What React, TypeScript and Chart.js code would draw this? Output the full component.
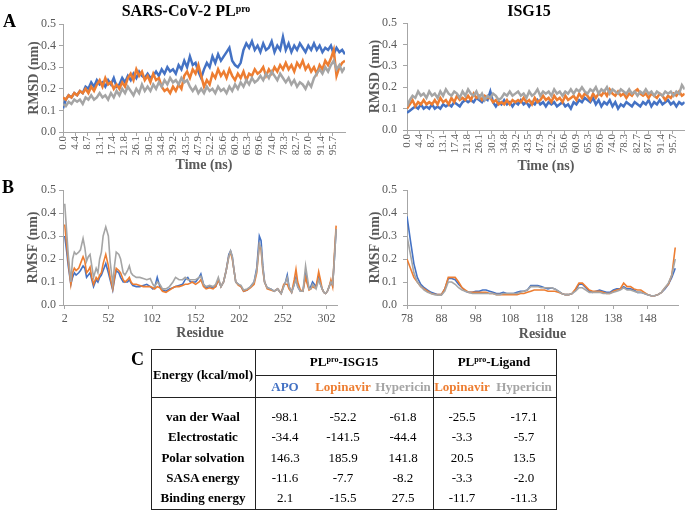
import React, { useEffect, useRef } from "react";
import { Chart, registerables } from "chart.js";
Chart.register(...registerables);

const SERIF = '"Liberation Serif", "Times New Roman", serif';
const C_BLUE = "#4472C4";
const C_ORANGE = "#ED7D31";
const C_GRAY = "#A5A5A5";
const AXIS = "#A6A6A6";
const TICK = "#595959";

// ---------- Panel A : RMSD vs time (ns), one sample per ns ----------
const TIME_TICKS = [0.0, 4.4, 8.7, 13.1, 17.4, 21.8, 26.1, 30.5, 34.8, 39.2, 43.5, 47.9, 52.2, 56.6, 60.9, 65.3, 69.6, 74.0, 78.3, 82.7, 87.0, 91.4, 95.7];
const Y_TICKS = [0, 0.1, 0.2, 0.3, 0.4, 0.5];

const PL_RMSD_APO = [
  0.11, 0.15, 0.17, 0.16, 0.18, 0.17, 0.19, 0.18, 0.21, 0.20,
  0.23, 0.21, 0.24, 0.22, 0.23, 0.21, 0.24, 0.22, 0.25, 0.21,
  0.22, 0.25, 0.23, 0.26, 0.24, 0.27, 0.25, 0.28, 0.26, 0.25,
  0.27, 0.25, 0.26, 0.28, 0.26, 0.29, 0.27, 0.30, 0.28, 0.29,
  0.27, 0.31, 0.29, 0.33, 0.30, 0.35, 0.31, 0.32, 0.28, 0.25,
  0.29, 0.32, 0.30, 0.35, 0.32, 0.36, 0.33, 0.35, 0.37, 0.39,
  0.33, 0.31, 0.30, 0.32, 0.38, 0.41, 0.39, 0.42, 0.38, 0.40,
  0.37, 0.41, 0.38, 0.39, 0.42, 0.37, 0.40, 0.38, 0.44, 0.38,
  0.41, 0.37, 0.40, 0.38, 0.41, 0.39, 0.37, 0.40, 0.38, 0.41,
  0.38, 0.40, 0.37, 0.39, 0.38, 0.40, 0.36, 0.39, 0.37, 0.38,
  0.36,
];
const PL_RMSD_LOP = [
  0.16, 0.15, 0.17, 0.16, 0.18, 0.17, 0.19, 0.18, 0.20, 0.18,
  0.21, 0.19, 0.22, 0.24, 0.21, 0.25, 0.22, 0.23, 0.20, 0.22,
  0.20, 0.23, 0.21, 0.25, 0.27, 0.24, 0.29, 0.26, 0.28, 0.24,
  0.26, 0.23, 0.27, 0.24, 0.25, 0.21, 0.19, 0.20, 0.18, 0.21,
  0.19, 0.22, 0.20, 0.26, 0.28, 0.25, 0.29, 0.27, 0.31, 0.26,
  0.21, 0.24, 0.22, 0.27, 0.25, 0.29, 0.26, 0.28, 0.25, 0.29,
  0.26, 0.24, 0.27, 0.25, 0.28, 0.24, 0.27, 0.26, 0.29, 0.27,
  0.28, 0.30, 0.26, 0.29, 0.27, 0.30, 0.28, 0.31, 0.29, 0.32,
  0.29, 0.31, 0.28, 0.32, 0.30, 0.33, 0.29, 0.31, 0.28, 0.30,
  0.27, 0.31, 0.29, 0.33, 0.31, 0.34, 0.38, 0.26, 0.30, 0.32,
  0.33,
];
const PL_RMSD_HYP = [
  0.13, 0.12, 0.14, 0.13, 0.15, 0.14, 0.15, 0.13, 0.16, 0.15,
  0.17, 0.15, 0.16, 0.18, 0.16, 0.17, 0.15, 0.18, 0.16, 0.19,
  0.17, 0.20, 0.18, 0.21, 0.19, 0.17, 0.20, 0.18, 0.22, 0.19,
  0.21, 0.19, 0.22, 0.20, 0.23, 0.21, 0.24, 0.22, 0.25, 0.23,
  0.24, 0.22, 0.25, 0.23, 0.24, 0.21, 0.19, 0.21, 0.18, 0.20,
  0.18, 0.21, 0.19, 0.20, 0.18, 0.21, 0.19, 0.20, 0.18, 0.21,
  0.19, 0.22, 0.20, 0.23, 0.21, 0.24, 0.22, 0.25, 0.23, 0.24,
  0.26, 0.24, 0.27, 0.25, 0.28, 0.26, 0.24, 0.27, 0.25, 0.23,
  0.25, 0.22, 0.24, 0.21, 0.23, 0.22, 0.20, 0.23, 0.21, 0.25,
  0.27, 0.29, 0.27, 0.30, 0.28, 0.31, 0.33, 0.29, 0.31, 0.28,
  0.30,
];

const ISG_RMSD_APO = [
  0.08, 0.09, 0.10, 0.11, 0.10, 0.12, 0.10, 0.11, 0.10, 0.12,
  0.10, 0.11, 0.10, 0.12, 0.11, 0.12, 0.11, 0.13, 0.12, 0.11,
  0.13, 0.14, 0.13, 0.14, 0.13, 0.15, 0.14, 0.13, 0.15, 0.14,
  0.18, 0.13, 0.11, 0.13, 0.12, 0.14, 0.12, 0.13, 0.11, 0.13,
  0.12, 0.14, 0.12, 0.13, 0.11, 0.13, 0.12, 0.14, 0.12, 0.13,
  0.11, 0.13, 0.12, 0.13, 0.11, 0.12, 0.13, 0.11, 0.12, 0.10,
  0.13, 0.12, 0.14, 0.13, 0.15, 0.14, 0.13, 0.15, 0.12, 0.14,
  0.11, 0.13, 0.12, 0.14, 0.11, 0.13, 0.10, 0.12, 0.11, 0.13,
  0.12, 0.11, 0.13, 0.12, 0.11, 0.13, 0.12, 0.14, 0.11, 0.13,
  0.12, 0.14, 0.12, 0.13, 0.14, 0.12, 0.13, 0.11, 0.13, 0.12,
  0.13,
];
const ISG_RMSD_LOP = [
  0.10, 0.12, 0.14, 0.11, 0.13, 0.12, 0.14, 0.12, 0.13, 0.12,
  0.14, 0.12, 0.15, 0.13, 0.14, 0.12, 0.15, 0.13, 0.16, 0.14,
  0.15, 0.14, 0.16, 0.14, 0.17, 0.15, 0.16, 0.14, 0.16, 0.15,
  0.15, 0.13, 0.14, 0.12, 0.13, 0.12, 0.14, 0.12, 0.14, 0.13,
  0.14, 0.13, 0.15, 0.13, 0.14, 0.12, 0.15, 0.13, 0.14, 0.16,
  0.14, 0.15, 0.13, 0.16, 0.14, 0.15, 0.13, 0.16, 0.14, 0.15,
  0.16, 0.14, 0.17, 0.15, 0.17, 0.16, 0.14, 0.17, 0.15, 0.17,
  0.16, 0.18, 0.16, 0.19, 0.17, 0.16, 0.18, 0.16, 0.17, 0.15,
  0.17, 0.16, 0.18, 0.19, 0.17, 0.16, 0.17, 0.15, 0.17, 0.16,
  0.15, 0.17, 0.16, 0.14, 0.16, 0.15, 0.17, 0.16, 0.18, 0.16,
  0.17,
];
const ISG_RMSD_HYP = [
  0.11, 0.14, 0.16, 0.15, 0.18, 0.16, 0.17, 0.15, 0.18, 0.16,
  0.17, 0.15, 0.18, 0.16, 0.19, 0.17, 0.16, 0.18, 0.17, 0.15,
  0.18, 0.16, 0.19, 0.17, 0.16, 0.18, 0.15, 0.17, 0.14, 0.16,
  0.15, 0.17, 0.16, 0.14, 0.15, 0.17, 0.16, 0.18, 0.16, 0.17,
  0.18, 0.16, 0.17, 0.15, 0.18, 0.16, 0.17, 0.19, 0.16, 0.18,
  0.17, 0.18, 0.16, 0.19, 0.17, 0.18, 0.16, 0.18, 0.17, 0.19,
  0.17, 0.19, 0.18, 0.20, 0.18, 0.17, 0.19, 0.18, 0.20, 0.17,
  0.19, 0.18, 0.20, 0.17, 0.19, 0.18, 0.17, 0.19, 0.18, 0.17,
  0.19, 0.17, 0.18, 0.16, 0.18, 0.17, 0.19, 0.17, 0.18, 0.16,
  0.18, 0.17, 0.16, 0.18, 0.17, 0.18, 0.16, 0.18, 0.17, 0.21,
  0.19,
];
const TIME_NS = PL_RMSD_APO.map((_, i) => i);

// ---------- Panel B : RMSF per residue ----------
const PL_RES = [
  2, 4, 6, 9, 11, 13, 15, 18, 20, 23,
  25, 27, 29, 31, 33, 35, 38, 40, 42, 44,
  46, 49, 52, 54, 57, 59, 61, 64, 66, 69,
  71, 74, 76, 78, 80, 84, 88, 92, 96, 100,
  103, 105, 108, 111, 114, 118, 122, 126, 129, 133,
  137, 140, 143, 146, 148, 152, 156, 158, 161, 164,
  168, 172, 175, 178, 181, 184, 187, 190, 192, 194,
  196, 198, 201, 204, 207, 211, 215, 219, 222, 225,
  227, 229, 231, 234, 238, 242, 246, 250, 253, 255,
  257, 259, 262, 265, 267, 269, 272, 275, 278, 280,
  282, 284, 286, 288, 290, 293, 295, 297, 299, 301,
  303, 305, 307, 309, 311, 313,
];
const PL_RMSF_HYP = [
  0.44, 0.33, 0.22, 0.10, 0.20, 0.23, 0.22, 0.23, 0.24, 0.29,
  0.25, 0.19, 0.21, 0.22, 0.17, 0.12, 0.16, 0.14, 0.20, 0.23,
  0.30, 0.34, 0.30, 0.19, 0.09, 0.17, 0.23, 0.22, 0.20, 0.14,
  0.13, 0.15, 0.17, 0.14, 0.13, 0.12, 0.12, 0.115, 0.11, 0.115,
  0.09, 0.08, 0.10, 0.09, 0.07, 0.07, 0.08, 0.10, 0.12, 0.11,
  0.11, 0.12, 0.11, 0.11, 0.11, 0.11, 0.12, 0.125, 0.09, 0.08,
  0.085, 0.08, 0.09, 0.12, 0.08, 0.10, 0.15, 0.21, 0.235, 0.21,
  0.15, 0.10, 0.09, 0.085, 0.065, 0.07, 0.08, 0.10, 0.15, 0.265,
  0.25, 0.16, 0.10, 0.075, 0.07, 0.06, 0.07, 0.05, 0.08, 0.10,
  0.12, 0.08, 0.055, 0.09, 0.11, 0.08, 0.06, 0.06, 0.17, 0.12,
  0.07, 0.07, 0.09, 0.08, 0.07, 0.11, 0.09, 0.07, 0.055, 0.05,
  0.06, 0.08, 0.10, 0.09, 0.20, 0.33,
];
const PL_RMSF_LOP = [
  0.35, 0.27, 0.19, 0.09, 0.14, 0.16, 0.15, 0.16, 0.18, 0.21,
  0.19, 0.14, 0.15, 0.165, 0.12, 0.09, 0.12, 0.11, 0.13, 0.14,
  0.18, 0.22, 0.17, 0.12, 0.07, 0.12, 0.16, 0.15, 0.14, 0.11,
  0.10, 0.11, 0.12, 0.10, 0.09, 0.09, 0.085, 0.08, 0.08, 0.08,
  0.075, 0.07, 0.08, 0.075, 0.06, 0.055, 0.065, 0.075, 0.08, 0.08,
  0.085, 0.09, 0.09, 0.095, 0.10, 0.09, 0.10, 0.11, 0.08, 0.07,
  0.075, 0.07, 0.08, 0.11, 0.08, 0.10, 0.15, 0.21, 0.23, 0.20,
  0.15, 0.10, 0.085, 0.08, 0.06, 0.065, 0.075, 0.09, 0.14, 0.26,
  0.24, 0.15, 0.10, 0.07, 0.065, 0.06, 0.07, 0.05, 0.09, 0.09,
  0.09, 0.07, 0.055, 0.11, 0.155, 0.10, 0.065, 0.06, 0.12, 0.09,
  0.065, 0.07, 0.08, 0.075, 0.08, 0.145, 0.11, 0.07, 0.055, 0.05,
  0.06, 0.08, 0.11, 0.08, 0.22, 0.345,
];
const PL_RMSF_APO = [
  0.30, 0.24, 0.17, 0.09, 0.12, 0.14, 0.13, 0.14, 0.15, 0.17,
  0.16, 0.12, 0.13, 0.14, 0.11, 0.08, 0.11, 0.10, 0.12, 0.13,
  0.15, 0.18, 0.14, 0.11, 0.065, 0.11, 0.15, 0.14, 0.12, 0.10,
  0.10, 0.10, 0.11, 0.095, 0.085, 0.08, 0.08, 0.085, 0.09, 0.08,
  0.07, 0.075, 0.12, 0.08, 0.065, 0.06, 0.07, 0.075, 0.08, 0.085,
  0.09, 0.11, 0.12, 0.10, 0.10, 0.10, 0.12, 0.135, 0.09, 0.075,
  0.08, 0.075, 0.08, 0.11, 0.08, 0.10, 0.15, 0.22, 0.235, 0.21,
  0.15, 0.10, 0.09, 0.08, 0.06, 0.065, 0.08, 0.10, 0.16, 0.30,
  0.28, 0.17, 0.10, 0.075, 0.07, 0.06, 0.07, 0.05, 0.085, 0.10,
  0.13, 0.08, 0.055, 0.09, 0.12, 0.08, 0.06, 0.06, 0.14, 0.10,
  0.07, 0.08, 0.10, 0.09, 0.08, 0.12, 0.09, 0.07, 0.055, 0.05,
  0.06, 0.08, 0.10, 0.085, 0.20, 0.33,
];
const PL_RES_TICKS = [2, 52, 102, 152, 202, 252, 302];

const ISG_RMSF_APO = [
  0.385, 0.28, 0.18, 0.12, 0.09, 0.075, 0.065, 0.055, 0.05, 0.045,
  0.045, 0.07, 0.115, 0.115, 0.11, 0.09, 0.075, 0.06, 0.055, 0.055,
  0.06, 0.06, 0.065, 0.065, 0.06, 0.055, 0.05, 0.05, 0.055, 0.05,
  0.05, 0.05, 0.055, 0.06, 0.06, 0.065, 0.085, 0.085, 0.085, 0.08,
  0.075, 0.07, 0.075, 0.07, 0.06, 0.05, 0.045, 0.045, 0.05, 0.065,
  0.09, 0.09, 0.075, 0.06, 0.055, 0.06, 0.065, 0.06, 0.055, 0.055,
  0.065, 0.07, 0.07, 0.08, 0.07, 0.07, 0.065, 0.055, 0.055, 0.05,
  0.045, 0.04, 0.04, 0.045, 0.055, 0.07, 0.09, 0.12, 0.16,
];
const ISG_RMSF_LOP = [
  0.20, 0.16, 0.12, 0.10, 0.08, 0.07, 0.06, 0.05, 0.047, 0.045,
  0.045, 0.07, 0.12, 0.12, 0.12, 0.10, 0.075, 0.065, 0.055, 0.055,
  0.055, 0.055, 0.055, 0.055, 0.05, 0.05, 0.045, 0.045, 0.045, 0.045,
  0.045, 0.045, 0.045, 0.05, 0.05, 0.055, 0.06, 0.065, 0.065, 0.065,
  0.065, 0.06, 0.06, 0.06, 0.055, 0.05, 0.045, 0.045, 0.05, 0.07,
  0.095, 0.095, 0.08, 0.065, 0.06, 0.06, 0.06, 0.055, 0.05, 0.05,
  0.06, 0.065, 0.07, 0.095, 0.08, 0.08, 0.07, 0.065, 0.065, 0.055,
  0.045, 0.04, 0.04, 0.045, 0.055, 0.075, 0.09, 0.13, 0.25,
];
const ISG_RMSF_HYP = [
  0.30, 0.22, 0.14, 0.10, 0.08, 0.065, 0.055, 0.05, 0.045, 0.043,
  0.043, 0.06, 0.10, 0.10, 0.09, 0.075, 0.065, 0.06, 0.055, 0.05,
  0.05, 0.05, 0.05, 0.05, 0.05, 0.05, 0.045, 0.045, 0.05, 0.05,
  0.05, 0.05, 0.05, 0.055, 0.06, 0.065, 0.08, 0.08, 0.08, 0.075,
  0.075, 0.075, 0.075, 0.07, 0.06, 0.05, 0.045, 0.045, 0.05, 0.06,
  0.075, 0.075, 0.065, 0.055, 0.055, 0.055, 0.055, 0.05, 0.05, 0.05,
  0.055, 0.06, 0.065, 0.075, 0.065, 0.065, 0.06, 0.055, 0.055, 0.05,
  0.045, 0.04, 0.04, 0.045, 0.055, 0.075, 0.095, 0.13, 0.20,
];
const ISG_FIRST_RES = 78;
const ISG_RES = ISG_RMSF_APO.map((_, i) => ISG_FIRST_RES + i);
const ISG_RES_TICKS = [78, 88, 98, 108, 118, 128, 138, 148];

// ---------- Panel C : energy table ----------
const ENERGY_TERMS = ["van der Waal", "Electrostatic", "Polar solvation", "SASA energy", "Binding energy"];
const ISG15_APO = [-98.1, -34.4, 146.3, -11.6, 2.1];
const ISG15_LOPINAVIR = [-52.2, -141.5, 185.9, -7.7, -15.5];
const ISG15_HYPERICIN = [-61.8, -44.4, 141.8, -8.2, 27.5];
const LIGAND_LOPINAVIR = [-25.5, -3.3, 20.5, -3.3, -11.7];
const LIGAND_HYPERICIN = [-17.1, -5.7, 13.5, -2.0, -11.3];

type Series = { data: number[]; color: string; order: number };
type PanelProps = {
  left: number; top: number; width: number; height: number;
  xs: number[]; series: Series[];
  xMin: number; xMax: number; xTicks: number[]; xDec: number; rotate: number;
  xFont: number; xTickPad: number;
  xTitle: string; yTitle: string;
  pad: { left: number; right: number; top: number; bottom: number };
  yWidth: number; xHeight: number; yTickPad: number; xTitlePad: number;
  lineWidth: number;
};

function Panel(p: PanelProps) {
  const ref = useRef<HTMLCanvasElement | null>(null);
  useEffect(() => {
    if (!ref.current) return;
    const font = { family: SERIF, size: 12 };
    const tfont = { family: SERIF, size: 14, weight: "bold" as const };
    const chart = new Chart(ref.current, {
      type: "line",
      data: {
        datasets: p.series.map((s) => ({
          data: p.xs.map((x, i) => ({ x, y: s.data[i] })),
          borderColor: s.color,
          backgroundColor: s.color,
          borderWidth: p.lineWidth,
          pointRadius: 0,
          tension: 0,
          order: s.order,
        })),
      },
      options: {
        animation: false,
        responsive: false,
        maintainAspectRatio: false,
        layout: { padding: p.pad },
        plugins: { legend: { display: false }, tooltip: { enabled: false } },
        scales: {
          x: {
            type: "linear",
            min: p.xMin,
            max: p.xMax,
            afterBuildTicks: (a: any) => { a.ticks = p.xTicks.map((v) => ({ value: v })); },
            afterFit: (a: any) => { a.height = p.xHeight; },
            ticks: {
              autoSkip: false,
              minRotation: p.rotate,
              maxRotation: p.rotate,
              color: TICK,
              font: { family: SERIF, size: p.xFont },
              padding: p.xTickPad,
              callback: (v: any) => Number(v).toFixed(p.xDec),
            },
            grid: { drawOnChartArea: false, drawTicks: true, tickLength: 4, color: AXIS },
            border: { color: AXIS, width: 1 },
            title: { display: true, text: p.xTitle, color: TICK, font: tfont, padding: { top: 0, bottom: p.xTitlePad } },
          },
          y: {
            type: "linear",
            min: 0,
            max: 0.5,
            afterBuildTicks: (a: any) => { a.ticks = Y_TICKS.map((v) => ({ value: v })); },
            afterFit: (a: any) => { a.width = p.yWidth; },
            ticks: { color: TICK, font, padding: p.yTickPad, callback: (v: any) => Number(v).toFixed(1) },
            grid: { drawOnChartArea: false, drawTicks: true, tickLength: 4, color: AXIS },
            border: { color: AXIS, width: 1 },
            title: { display: true, text: p.yTitle, color: TICK, font: tfont, padding: { top: 0, bottom: 0 } },
          },
        },
      },
    } as any);
    return () => chart.destroy();
  }, []);
  return (
    <canvas
      ref={ref}
      width={p.width}
      height={p.height}
      style={{ position: "absolute", left: p.left, top: p.top, width: p.width, height: p.height, display: "block" }}
    />
  );
}

function Txt(props: { x: number; y: number; size: number; bold?: boolean; color?: string; align?: "center" | "left"; children: React.ReactNode }) {
  const { x, y, size, bold, color, align = "center", children } = props;
  return (
    <div
      style={{
        position: "absolute",
        left: x,
        top: y - size / 2,
        lineHeight: `${size}px`,
        fontSize: size,
        fontFamily: SERIF,
        fontWeight: bold ? 700 : 400,
        color: color || "#000",
        whiteSpace: "nowrap",
        transform: align === "center" ? "translateX(-50%)" : undefined,
      }}
    >
      {children}
    </div>
  );
}

function Line(props: { x: number; y: number; w: number; h: number }) {
  return <div style={{ position: "absolute", left: props.x, top: props.y, width: props.w, height: props.h, background: "#222" }} />;
}

const sup = (t: string) => <sup style={{ fontSize: "0.62em", verticalAlign: "0.45em", lineHeight: 0 }}>{t}</sup>;

export default function App() {
  const fmt = (v: number) => v.toFixed(1);
  const colX = [285, 343, 403, 462, 524];
  const rowY = [416, 436, 457, 477, 497];
  const cols = [ISG15_APO, ISG15_LOPINAVIR, ISG15_HYPERICIN, LIGAND_LOPINAVIR, LIGAND_HYPERICIN];
  const TL = 151, TR = 556, TT = 349, TB = 509;
  return (
    <div style={{ position: "absolute", left: 0, top: 0, width: 686, height: 510, background: "#fff", overflow: "hidden" }}>
      <Panel
        left={0} top={0} width={350} height={175}
        xs={TIME_NS}
        series={[
          { data: PL_RMSD_APO, color: C_BLUE, order: 2 },
          { data: PL_RMSD_LOP, color: C_ORANGE, order: 1 },
          { data: PL_RMSD_HYP, color: C_GRAY, order: 0 },
        ]}
        xMin={0} xMax={100} xTicks={TIME_TICKS} xDec={1} rotate={90} xFont={11} xTickPad={0}
        xTitle="Time (ns)" yTitle="RMSD (nm)"
        pad={{ left: 26, right: 5, top: 24, bottom: 0 }}
        yWidth={37} xHeight={43} yTickPad={3} xTitlePad={1} lineWidth={2.5}
      />
      <Panel
        left={343} top={0} width={343} height={175}
        xs={TIME_NS}
        series={[
          { data: ISG_RMSD_APO, color: C_BLUE, order: 2 },
          { data: ISG_RMSD_LOP, color: C_ORANGE, order: 1 },
          { data: ISG_RMSD_HYP, color: C_GRAY, order: 0 },
        ]}
        xMin={0} xMax={100} xTicks={TIME_TICKS} xDec={1} rotate={90} xFont={11} xTickPad={0}
        xTitle="Time (ns)" yTitle="RMSD (nm)"
        pad={{ left: 24, right: 1, top: 23, bottom: 0 }}
        yWidth={40} xHeight={45} yTickPad={6} xTitlePad={0.5} lineWidth={2.5}
      />
      <Panel
        left={0} top={170} width={350} height={175}
        xs={PL_RES}
        series={[
          { data: PL_RMSF_APO, color: C_BLUE, order: 2 },
          { data: PL_RMSF_LOP, color: C_ORANGE, order: 1 },
          { data: PL_RMSF_HYP, color: C_GRAY, order: 0 },
        ]}
        xMin={0} xMax={314} xTicks={PL_RES_TICKS} xDec={0} rotate={0} xFont={12} xTickPad={3}
        xTitle="Residue" yTitle="RMSF (nm)"
        pad={{ left: 25, right: 13, top: 20, bottom: 0 }}
        yWidth={38} xHeight={40} yTickPad={3} xTitlePad={3.6} lineWidth={1.6}
      />
      <Panel
        left={343} top={170} width={343} height={175}
        xs={ISG_RES}
        series={[
          { data: ISG_RMSF_APO, color: C_BLUE, order: 2 },
          { data: ISG_RMSF_LOP, color: C_ORANGE, order: 1 },
          { data: ISG_RMSF_HYP, color: C_GRAY, order: 0 },
        ]}
        xMin={78} xMax={156.8} xTicks={ISG_RES_TICKS} xDec={0} rotate={0} xFont={12} xTickPad={3}
        xTitle="Residue" yTitle="RMSF (nm)"
        pad={{ left: 24, right: 8, top: 20, bottom: 0 }}
        yWidth={40} xHeight={40} yTickPad={6} xTitlePad={2.6} lineWidth={1.6}
      />

      {/* titles and panel letters */}
      <Txt x={186} y={11} size={16} bold>SARS-CoV-2 PL{sup("pro")}</Txt>
      <Txt x={529} y={11} size={16} bold>ISG15</Txt>
      <Txt x={3} y={21} size={18} bold align="left">A</Txt>
      <Txt x={2} y={187} size={18} bold align="left">B</Txt>
      <Txt x={131} y={359} size={18} bold align="left">C</Txt>

      {/* table lines */}
      <Line x={TL} y={TT} w={TR - TL + 1} h={1} />
      <Line x={TL} y={TB} w={TR - TL + 1} h={1} />
      <Line x={TL} y={TT} w={1} h={TB - TT + 1} />
      <Line x={TR} y={TT} w={1} h={TB - TT + 1} />
      <Line x={255} y={TT} w={1} h={TB - TT + 1} />
      <Line x={433} y={TT} w={1} h={TB - TT + 1} />
      <Line x={255} y={375} w={TR - 255 + 1} h={1} />
      <Line x={TL} y={397} w={TR - TL + 1} h={1} />

      {/* table header */}
      <Txt x={203} y={374} size={13} bold>Energy (kcal/mol)</Txt>
      <Txt x={344} y={361} size={13} bold>PL{sup("pro")}-ISG15</Txt>
      <Txt x={494} y={361} size={13} bold>PL{sup("pro")}-Ligand</Txt>
      <Txt x={colX[0]} y={386} size={13} bold color={C_BLUE}>APO</Txt>
      <Txt x={colX[1]} y={386} size={13} bold color={C_ORANGE}>Lopinavir</Txt>
      <Txt x={colX[2]} y={386} size={13} bold color={C_GRAY}>Hypericin</Txt>
      <Txt x={colX[3]} y={386} size={13} bold color={C_ORANGE}>Lopinavir</Txt>
      <Txt x={colX[4]} y={386} size={13} bold color={C_GRAY}>Hypericin</Txt>

      {ENERGY_TERMS.map((t, r) => (
        <React.Fragment key={t}>
          <Txt x={203} y={rowY[r]} size={13} bold>{t}</Txt>
          {cols.map((c, k) => (
            <Txt key={k} x={colX[k]} y={rowY[r]} size={13}>{fmt(c[r])}</Txt>
          ))}
        </React.Fragment>
      ))}
    </div>
  );
}
